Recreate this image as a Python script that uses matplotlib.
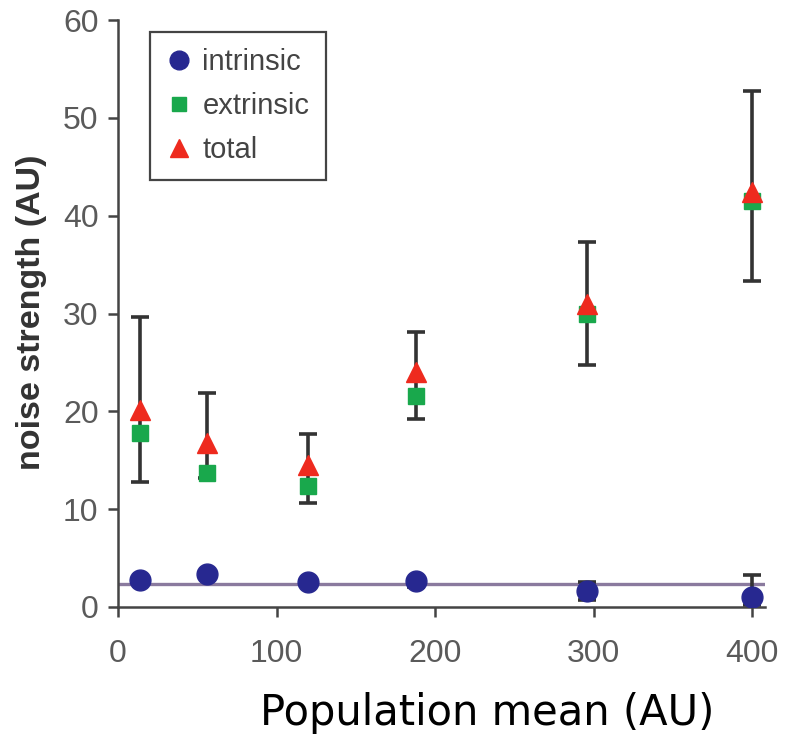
import matplotlib
matplotlib.use("Agg")
import matplotlib.pyplot as plt
import numpy as np

# ---- data ----
pop_mean = [14, 56, 120, 188, 296, 400]
intrinsic = [2.75, 3.4, 2.6, 2.7, 1.6, 1.0]
intrinsic_lo = [2.75, 3.4, 2.6, 2.0, 0.7, 0.2]
intrinsic_hi = [2.75, 3.4, 2.6, 3.0, 2.6, 3.3]
extrinsic = [17.8, 13.7, 12.4, 21.6, 30.0, 41.5]
total = [20.1, 16.8, 14.5, 24.0, 31.0, 42.4]
total_lo = [12.8, 13.2, 10.6, 19.2, 24.7, 33.3]
total_hi = [29.6, 21.9, 17.7, 28.1, 37.3, 52.7]
intrinsic_mean = 2.35
xticks = [0, 100, 200, 300, 400]
yticks = [0, 10, 20, 30, 40, 50, 60]

W, H = 785, 738
fig = plt.figure(figsize=(W / 100, H / 100), dpi=100)
ax = fig.add_axes([118 / W, 1 - 607 / H, (765 - 118) / W, (607 - 20) / H])

spine_c = "#444444"
err_c = "#333333"

ax.axhline(intrinsic_mean, color="#8a7a9e", lw=2.4, zorder=1)

t = np.array(total)
ax.errorbar(pop_mean, total,
            yerr=[t - np.array(total_lo), np.array(total_hi) - t],
            fmt="none", ecolor=err_c, elinewidth=2.6, capsize=6.5, capthick=2.6, zorder=2)
i_arr = np.array(intrinsic)
ax.errorbar(pop_mean, intrinsic,
            yerr=[i_arr - np.array(intrinsic_lo), np.array(intrinsic_hi) - i_arr],
            fmt="none", ecolor=err_c, elinewidth=2.6, capsize=6.5, capthick=2.6, zorder=2)

ax.plot(pop_mean, intrinsic, "o", color="#272890", ms=15, mec="#272890", label="intrinsic", zorder=4)
ax.plot(pop_mean, extrinsic, "s", color="#19a84c", ms=11.5, mec="#19a84c", label="extrinsic", zorder=3)
ax.plot(pop_mean, total, "^", color="#ee2a1e", ms=15, mec="#ee2a1e", label="total", zorder=3)

ax.set_xlim(0, 408)
ax.set_ylim(0, 60)
ax.set_xticks(xticks)
ax.set_yticks(yticks)
for s in ["top", "right"]:
    ax.spines[s].set_visible(False)
for s in ["left", "bottom"]:
    ax.spines[s].set_color(spine_c)
    ax.spines[s].set_linewidth(1.8)
ax.tick_params(axis="both", direction="out", length=7, width=1.8, color=spine_c,
               labelcolor="#5a5a5a", labelsize=23)
ax.tick_params(axis="x", pad=16)
ax.tick_params(axis="y", pad=7)
for lab in ax.get_xticklabels() + ax.get_yticklabels():
    lab.set_family("Liberation Sans")

leg = ax.legend(loc="upper left", bbox_to_anchor=((150 - 118) / 647, (607 - 32) / 587),
                frameon=True, fancybox=False, edgecolor=spine_c, framealpha=1,
                prop={"family": "Liberation Sans", "size": 21}, handlelength=0.9,
                handletextpad=0.35, labelspacing=0.55, borderpad=0.55, borderaxespad=0,
                markerscale=0.9)
leg.get_frame().set_linewidth(1.6)
for txt in leg.get_texts():
    txt.set_color("#444444")

fig.text(32 / W, 1 - 312.5 / H, "noise strength (AU)", rotation=90, ha="center", va="center",
         family="Liberation Sans", weight="bold", fontsize=24.5, color="#333333")
fig.text(487.5 / W, 1 - 725 / H, "Population mean (AU)", ha="center", va="baseline",
         family="DejaVu Sans", fontsize=30, color="black")

fig.savefig("out.png", dpi=100)
